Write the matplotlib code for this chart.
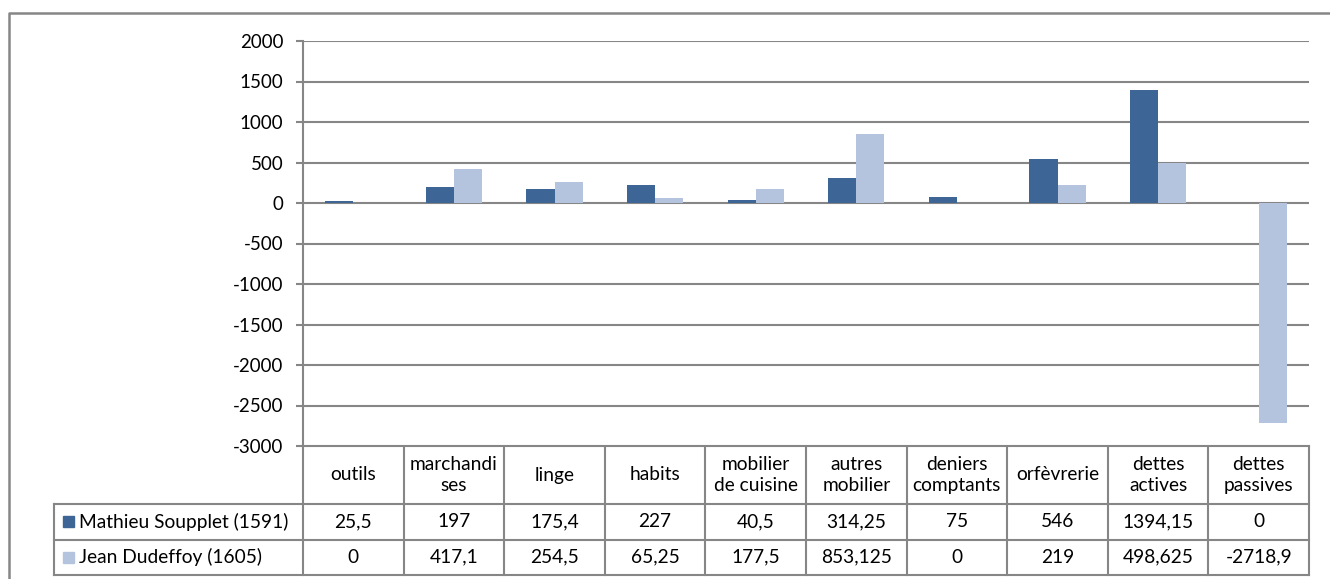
import numpy as np
import matplotlib.pyplot as plt
from matplotlib.patches import Rectangle

plt.rcParams['font.family'] = ['Lato', 'DejaVu Sans']
plt.rcParams['axes.unicode_minus'] = False

categories = ["outils", "marchandi\nses", "linge", "habits", "mobilier\nde cuisine",
              "autres\nmobilier", "deniers\ncomptants", "orfèvrerie", "dettes\nactives",
              "dettes\npassives"]
series_names = ["Mathieu Soupplet (1591)", "Jean Dudeffoy (1605)"]
soupplet = [25.5, 197, 175.4, 227, 40.5, 314.25, 75, 546, 1394.15, 0]
dudeffoy = [0, 417.1, 254.5, 65.25, 177.5, 853.125, 0, 219, 498.625, -2718.9]
soupplet_txt = ["25,5", "197", "175,4", "227", "40,5", "314,25", "75", "546", "1394,15", "0"]
dudeffoy_txt = ["0", "417,1", "254,5", "65,25", "177,5", "853,125", "0", "219", "498,625", "-2718,9"]

dark = "#3D6596"
light = "#B5C4DE"
grid = "#868686"

W, H = 1330, 579
fig = plt.figure(figsize=(W / 100, H / 100), dpi=100)

# outer chart frame (runs off the right and bottom edge)
frame = fig.add_axes([0, 0, 1, 1])
frame.set_xlim(0, W)
frame.set_ylim(H, 0)
frame.axis("off")
frame.plot([8.5, 8.5, W + 5], [H + 5, 12.5, 12.5], color=grid, lw=1.8)

x0, x1, y0, y1 = 303, 1309, 41, 446
ax = fig.add_axes([x0 / W, 1 - y1 / H, (x1 - x0) / W, (y1 - y0) / H])
n = len(categories)
x = np.arange(n)
bw = 0.28
ax.bar(x - bw / 2, soupplet, bw, color=dark, zorder=3)
ax.bar(x + bw / 2, dudeffoy, bw, color=light, zorder=3)
ax.set_xlim(-0.5, n - 0.5)
ax.set_ylim(-3000, 2000)
ax.set_yticks(np.arange(-3000, 2001, 500))
ax.yaxis.grid(True, color=grid, lw=1.5)
ax.set_axisbelow(True)
ax.set_xticks([])
for s in ["top", "right", "bottom"]:
    ax.spines[s].set_visible(False)
ax.spines["left"].set_color(grid)
ax.spines["left"].set_linewidth(1.5)
ax.tick_params(axis="y", length=5, width=1.5, color=grid, labelsize=13.5, pad=9)

# data table under the plot
col_w = (x1 - x0) / n
leg_x = 54
h0, h1, h2, h3 = y1, 504, 539.5, 575
lk = dict(color=grid, lw=1.5)
frame.plot([x0, x1], [h0, h0], **lk)
frame.plot([leg_x, x1], [h1, h1], **lk)
frame.plot([leg_x, x1], [h2, h2], **lk)
frame.plot([leg_x, x1], [h3, h3], **lk)
frame.plot([leg_x, leg_x], [h1, h3], **lk)
for i in range(n + 1):
    cx = x0 + i * col_w
    frame.plot([cx, cx], [h0, h3], **lk)

fs = 13.8
for i in range(n):
    cx = x0 + (i + 0.5) * col_w
    frame.text(cx, (h0 + h1) / 2, categories[i], ha="center", va="center",
               fontsize=fs, linespacing=1.25, color="#000000")
    frame.text(cx, (h1 + h2) / 2, soupplet_txt[i], ha="center", va="center", fontsize=fs)
    frame.text(cx, (h2 + h3) / 2, dudeffoy_txt[i], ha="center", va="center", fontsize=fs)

for row, (name, col) in enumerate(zip(series_names, [dark, light])):
    cy = (h1 + h2) / 2 if row == 0 else (h2 + h3) / 2
    frame.add_patch(Rectangle((63, cy - 5.5), 11, 11, color=col))
    frame.text(79, cy, name, ha="left", va="center", fontsize=fs)

fig.savefig("out.png", dpi=100)
